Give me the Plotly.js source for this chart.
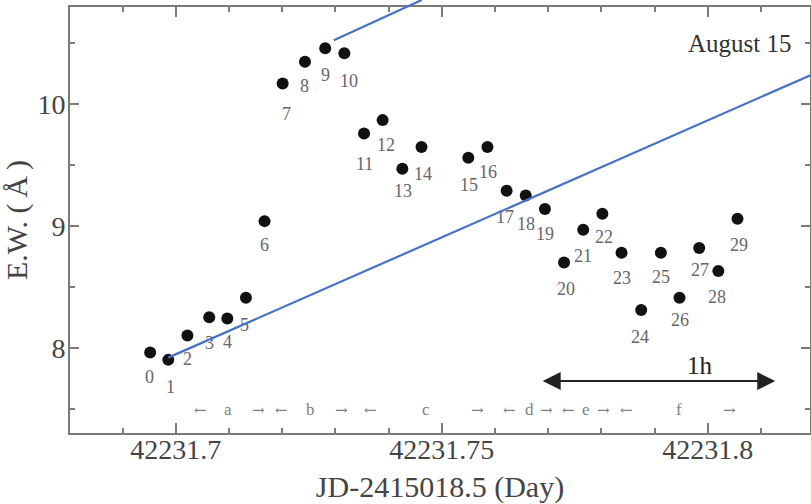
<!DOCTYPE html>
<html>
<head>
<meta charset="utf-8">
<script src="https://cdn.plot.ly/plotly-3.0.1.min.js"></script>
<style>html,body{margin:0;padding:0;background:#fff;}#chart{width:811px;height:504px;}</style>
</head>
<body>
<div id="chart"></div>
<script>
// Julian dates (JD-2415018.5) of the spectra
var jd = [42231.6952, 42231.6986, 42231.7022, 42231.7063, 42231.7097, 42231.7132,
          42231.7167, 42231.7201, 42231.7243, 42231.7281, 42231.7317, 42231.7354,
          42231.7389, 42231.7426, 42231.7462, 42231.7550, 42231.7586, 42231.7622,
          42231.7658, 42231.7694, 42231.7730, 42231.7766, 42231.7802, 42231.7838,
          42231.7875, 42231.7912, 42231.7947, 42231.7984, 42231.8020, 42231.8056];
// Equivalent widths (Angstrom)
var ew = [7.96, 7.90, 8.10, 8.25, 8.24, 8.41, 9.04, 10.17, 10.35, 10.46, 10.42, 9.76,
          9.87, 9.47, 9.65, 9.56, 9.65, 9.29, 9.25, 9.14, 8.70, 8.97, 9.10, 8.78,
          8.31, 8.78, 8.41, 8.82, 8.63, 9.06];
// spectrum numbers
var specLabels = ['0','1','2','3','4','5','6','7','8','9','10','11','12','13','14',
                  '15','16','17','18','19','20','21','22','23','24','25','26','27','28','29'];
// phase markers along the bottom
var phaseText = ['←','a','→','←','b','→','←','c','→','←','d','→','←','e','→','←','f','→'];
var phaseX = [42231.70457, 42231.70989, 42231.71553, 42231.71992, 42231.72538, 42231.73120,
              42231.73665, 42231.74705, 42231.75673, 42231.76271, 42231.76647, 42231.76974,
              42231.77380, 42231.77712, 42231.78038, 42231.78477, 42231.79466, 42231.80419];
var phaseY = 7.49;
// one-hour scale bar
var hourBarX = [42231.7687, 42231.8127];
var hourBarY = 7.726;
// overlaid blue guide lines (start, end)
var guideAX = [42231.72944, 42231.74624];
var guideAY = [10.520, 10.857];
var guideBX = [42231.69831, 42231.81942];
var guideBY = [7.913, 10.241];

// label offsets (pixels) for the spectrum numbers
var labDx = [-1,2,0,0,0,-1,0,4,0,0,5,0,3,1,2,1,1,-2,0,0,2,0,2,0,-1,0,0,1,-1,2];
var labDy = [25,28,24,27,25,28,25,31,25,28,29,31,26,23,28,28,26,27,29,26,27,27,24,26,28,25,23,23,27,27];

var SERIF = '"Liberation Serif", "Times New Roman", serif';
var axisGray = '#7a7a7a';
var textGray = '#555';

var annotations = [];
for (var i = 0; i < jd.length; i++) {
  annotations.push({
    x: jd[i], y: ew[i], xref: 'x', yref: 'y', text: specLabels[i], showarrow: false,
    xshift: labDx[i], yshift: -labDy[i] + 1,
    font: {family: SERIF, size: 18, color: '#666'}
  });
}
for (var j = 0; j < phaseText.length; j++) {
  var isArrow = (phaseText[j] === '←' || phaseText[j] === '→');
  annotations.push({
    x: phaseX[j], y: phaseY, xref: 'x', yref: 'y', text: phaseText[j], showarrow: false,
    font: {family: isArrow ? '"DejaVu Serif", serif' : SERIF, size: isArrow ? 15 : 17, color: '#808080'}
  });
}
annotations.push({
  x: 42231.81603, y: 10.5, xref: 'x', yref: 'y', xanchor: 'right', text: 'August 15',
  showarrow: false, font: {family: SERIF, size: 25, color: '#333'}
});
annotations.push({
  x: 42231.79855, y: 7.85, xref: 'x', yref: 'y', text: '1h',
  showarrow: false, font: {family: SERIF, size: 25, color: '#222'}
});
annotations.push({
  x: hourBarX[1], y: hourBarY, ax: hourBarX[0], ay: hourBarY, xref: 'x', yref: 'y',
  axref: 'x', ayref: 'y', text: '', showarrow: true, arrowside: 'end+start',
  arrowhead: 2, arrowsize: 1.8, arrowwidth: 2, arrowcolor: '#222', standoff: 0, startstandoff: 0
});
annotations.push({
  x: guideAX[1], y: guideAY[1], ax: guideAX[0], ay: guideAY[0], xref: 'x', yref: 'y',
  axref: 'x', ayref: 'y', text: '', showarrow: true, arrowhead: 0, arrowwidth: 2.2,
  arrowcolor: '#4472C4'
});
annotations.push({
  x: guideBX[1], y: guideBY[1], ax: guideBX[0], ay: guideBY[0], xref: 'x', yref: 'y',
  axref: 'x', ayref: 'y', text: '', showarrow: true, arrowhead: 0, arrowwidth: 2.2,
  arrowcolor: '#4472C4'
});

var trace = {
  x: jd, y: ew, mode: 'markers', type: 'scatter',
  marker: {size: 12, color: '#111'}, cliponaxis: false, hoverinfo: 'x+y'
};

var layout = {
  width: 811, height: 504,
  margin: {l: 70, r: 1, t: 7, b: 71},
  paper_bgcolor: '#fff', plot_bgcolor: '#fff',
  showlegend: false,
  font: {family: SERIF, color: textGray},
  xaxis: {
    range: [42231.68013, 42231.81923],
    tickvals: [42231.7, 42231.75, 42231.8],
    ticktext: ['42231.7', '42231.75', '42231.8'],
    ticks: 'inside', ticklen: 10, tickwidth: 2, tickcolor: axisGray,
    ticklabelstandoff: -10,
    minor: {dtick: 0.01, tick0: 42231.7, ticks: 'inside', ticklen: 5, tickwidth: 2, tickcolor: axisGray, showgrid: false},
    showline: true, linecolor: axisGray, linewidth: 2, mirror: 'allticks',
    showgrid: false, zeroline: false,
    tickfont: {family: SERIF, size: 28, color: '#444'},
    title: {text: 'JD-2415018.5 (Day)', font: {family: SERIF, size: 30, color: '#444'}, standoff: 20}
  },
  yaxis: {
    range: [7.2991, 10.7995],
    tickvals: [8, 9, 10],
    ticks: 'inside', ticklen: 9, tickwidth: 2, tickcolor: axisGray,
    ticklabelstandoff: -3,
    minor: {dtick: 0.5, tick0: 7.5, ticks: 'inside', ticklen: 5, tickwidth: 2, tickcolor: axisGray, showgrid: false},
    showline: true, linecolor: axisGray, linewidth: 2, mirror: 'allticks',
    showgrid: false, zeroline: false,
    tickfont: {family: SERIF, size: 28, color: '#444'},
    title: {text: 'E.W. (\u2009Å\u2009)', font: {family: SERIF, size: 30, color: '#444'}, standoff: 3}
  },
  annotations: annotations
};

Plotly.newPlot('chart', [trace], layout, {displayModeBar: false, staticPlot: true});
</script>
</body>
</html>
